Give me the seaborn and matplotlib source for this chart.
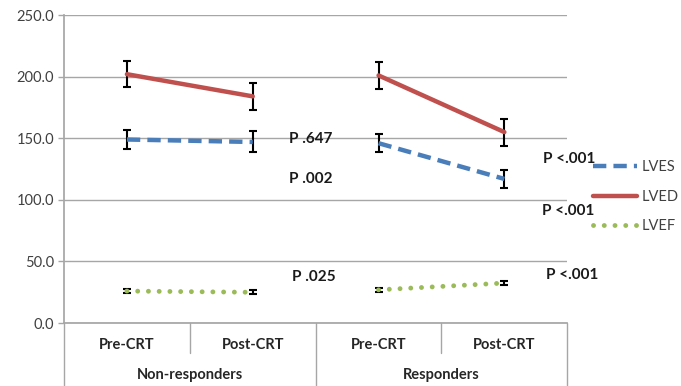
import numpy as np
import pandas as pd
import matplotlib
matplotlib.use("Agg")
import matplotlib.pyplot as plt
import seaborn as sns
from matplotlib.lines import Line2D
from matplotlib.transforms import blended_transform_factory

# data
phases = ["Pre-CRT", "Post-CRT", "Pre-CRT", "Post-CRT"]
groups = ["Non-responders", "Non-responders", "Responders", "Responders"]
group_names = ["Non-responders", "Responders"]

lves = [149, 147, 146, 117]
lves_err = [8, 8.5, 7.5, 7.5]
lved = [202, 184, 201, 155]
lved_err = [10.5, 11, 11, 11]
lvef = [26, 25, 27, 32.5]
lvef_err = [1.5, 1.5, 1.5, 1.5]

p_labels = ["P .647", "P .002", "P .025", "P <.001", "P <.001", "P <.001"]

sns.set_theme(style="white")
plt.rcParams["font.family"] = ["Lato", "DejaVu Sans"]

rows = []
for name, vals in [("LVES", lves), ("LVED", lved), ("LVEF", lvef)]:
    for i, v in enumerate(vals):
        rows.append({"measure": name, "pos": i, "group": groups[i], "value": v})
df = pd.DataFrame(rows)

colors = {"LVES": "#4a7ebb", "LVED": "#c0504d", "LVEF": "#9bbb59"}
errs = {"LVES": lves_err, "LVED": lved_err, "LVEF": lvef_err}

fig = plt.figure(figsize=(6.81, 3.86), dpi=100)
ax = fig.add_axes([0.094, 0.163, 0.739, 0.798])

# error bars first so the lines sit on top
for m in ["LVES", "LVED", "LVEF"]:
    sub = df[df.measure == m]
    ax.errorbar(sub["pos"], sub["value"], yerr=errs[m], fmt="none",
                ecolor="black", elinewidth=1.5, capsize=3, capthick=1.5, zorder=2)

sns.lineplot(data=df[df.measure == "LVES"], x="pos", y="value", units="group",
             estimator=None, color=colors["LVES"], lw=3.2, ax=ax, zorder=3)
for ln in ax.lines[-2:]:
    ln.set_dashes([3, 1.6])
sns.lineplot(data=df[df.measure == "LVED"], x="pos", y="value", units="group",
             estimator=None, color=colors["LVED"], lw=3.2, ax=ax, zorder=3)
sns.lineplot(data=df[df.measure == "LVEF"], x="pos", y="value", units="group",
             estimator=None, color=colors["LVEF"], lw=3.5, ax=ax, zorder=3)
for ln in ax.lines[-2:]:
    ln.set_dashes([0.01, 2.2])
    ln.set_dash_capstyle("round")

ax.set_xlim(-0.5, 3.5)
ax.set_ylim(0, 250)
ax.set_yticks(np.arange(0, 251, 50))
ax.set_yticklabels([f"{v:.1f}" for v in np.arange(0, 251, 50)], fontsize=10.5, color="#404040")
ax.set_xticks([])
ax.set_xlabel("")
ax.set_ylabel("")
ax.yaxis.grid(True, color="#a6a6a6", lw=1)
ax.tick_params(axis="y", which="both", left=True, length=4, color="#a6a6a6", width=1, pad=3)
for s in ["top", "right"]:
    ax.spines[s].set_visible(False)
ax.spines["bottom"].set_color("#a6a6a6")
ax.spines["left"].set_color("#a6a6a6")
ax.spines["left"].set_bounds(0, 250)

# two-level category axis
tr = blended_transform_factory(ax.transData, ax.transAxes)
for x, y0 in [(-0.5, -0.22), (0.5, -0.098), (1.5, -0.22), (2.5, -0.098), (3.5, -0.22)]:
    ax.add_line(Line2D([x, x], [0, y0], transform=tr, color="#a6a6a6", lw=1, clip_on=False))
for i, ph in enumerate(phases):
    ax.text(i, -0.07, ph, transform=tr, ha="center", va="center",
            fontsize=10.5, fontweight="bold", color="#262626")
for j, g in enumerate(group_names):
    ax.text(0.5 + 2 * j, -0.168, g, transform=tr, ha="center", va="center",
            fontsize=10.5, fontweight="bold", color="#262626")

# p-value annotations
p_pos = [(1.29, 149), (1.29, 117), (1.31, 37), (3.31, 133), (3.3, 91), (3.33, 39)]
for (x, y), t in zip(p_pos, p_labels):
    ax.text(x, y, t, fontsize=11, fontweight="bold", color="#1a1a1a",
            ha="left", va="center", clip_on=False)

handles = [Line2D([], [], color=colors["LVES"], lw=3.2, dashes=[3, 1.6]),
           Line2D([], [], color=colors["LVED"], lw=3.2),
           Line2D([], [], color=colors["LVEF"], lw=3.5, dashes=[0.01, 2.2],
                  dash_capstyle="round")]
ax.legend(handles, ["LVES", "LVED", "LVEF"], loc="center left",
          bbox_to_anchor=(1.025, 0.41), frameon=False, fontsize=10.5,
          handlelength=3.0, handletextpad=0.35, labelspacing=1.05,
          labelcolor="#404040")

fig.savefig("out.png", dpi=100)
